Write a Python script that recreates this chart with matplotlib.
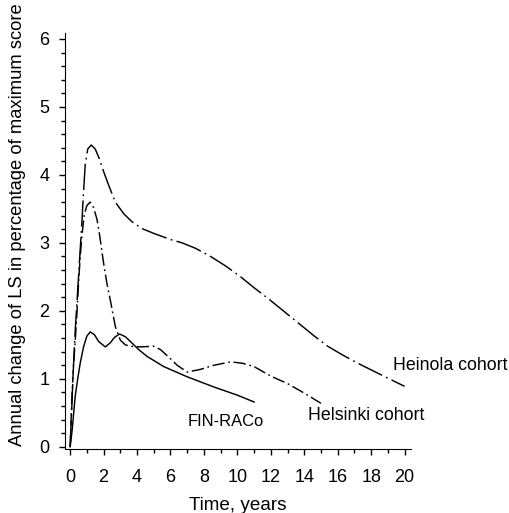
import matplotlib
matplotlib.use("Agg")
import matplotlib.pyplot as plt
from matplotlib.ticker import MultipleLocator

# valores
heinola_x = [0, 0.1, 0.2, 0.3, 0.4, 0.5, 0.6, 0.7, 0.8, 0.9, 1.05, 1.26, 1.5, 1.74,
             2.0, 2.3, 2.7, 3.2, 3.7, 4.3, 5.0, 6.0, 6.7, 7.5, 8.4, 9.3, 10.2, 11.0,
             11.8, 12.5, 13.8, 14.6, 15.4, 16.3, 17.2, 18.1, 19.0, 20.0]
heinola_y = [0, 0.6, 1.2, 1.7, 2.1, 2.5, 2.9, 3.3, 3.75, 4.15, 4.38, 4.44, 4.38,
             4.24, 4.05, 3.85, 3.6, 3.43, 3.31, 3.21, 3.14, 3.05, 3.0, 2.92, 2.8,
             2.66, 2.5, 2.34, 2.19, 2.05, 1.79, 1.63, 1.48, 1.35, 1.23, 1.12, 1.01,
             0.89]

helsinki_x = [0, 0.1, 0.2, 0.3, 0.4, 0.5, 0.6, 0.7, 0.84, 1.0, 1.2, 1.4, 1.6, 1.74,
              2.0, 2.2, 2.4, 2.7, 3.0, 3.3, 3.6, 4.2, 5.0, 5.4, 5.9, 6.4, 7.0, 7.8,
              8.6, 9.6, 10.3, 11.0, 12.0, 13.0, 14.0, 15.0]
helsinki_y = [0, 0.7, 1.2, 1.55, 1.95, 2.4, 2.8, 3.1, 3.41, 3.55, 3.6, 3.52, 3.35,
              3.15, 2.7, 2.4, 2.16, 1.77, 1.57, 1.5, 1.48, 1.47, 1.48, 1.43, 1.32,
              1.2, 1.1, 1.14, 1.2, 1.25, 1.23, 1.18, 1.04, 0.93, 0.79, 0.64]

finraco_x = [0, 0.12, 0.3, 0.45, 0.6, 0.8, 1.0, 1.2, 1.45, 1.7, 2.1, 2.4, 2.65,
             2.95, 3.3, 3.6, 4.1, 4.6, 5.6, 7.0, 8.6, 10.0, 11.0]
finraco_y = [0, 0.25, 0.74, 1.0, 1.23, 1.47, 1.63, 1.69, 1.65, 1.55, 1.47, 1.53,
             1.61, 1.66, 1.62, 1.55, 1.43, 1.33, 1.18, 1.03, 0.88, 0.76, 0.66]

plt.rcParams["font.family"] = ["Liberation Sans", "DejaVu Sans"]

fig = plt.figure(figsize=(5.09, 5.13), dpi=100)
ax = fig.add_axes([0.128, 0.125, 0.680, 0.811])

ax.plot(heinola_x, heinola_y, color="black", lw=1.05,
        linestyle=(0, (18, 3, 1.2, 3)))
ax.plot(helsinki_x, helsinki_y, color="black", lw=1.05,
        linestyle=(0, (8.5, 2.5, 1.2, 2.5)))
ax.plot(finraco_x, finraco_y, color="black", lw=1.05)

ax.text(19.3, 1.2, "Heinola cohort", fontsize=12.8, va="center")
ax.text(14.2, 0.46, "Helsinki cohort", fontsize=12.8, va="center")
ax.text(7.0, 0.37, "FIN-RACo", fontsize=11.9, va="center")

ax.set_xlim(-0.3, 20.4)
ax.set_ylim(-0.03, 6.09)
ax.xaxis.set_major_locator(MultipleLocator(2))
ax.xaxis.set_minor_locator(MultipleLocator(1))
ax.yaxis.set_major_locator(MultipleLocator(1))
ax.yaxis.set_minor_locator(MultipleLocator(0.2))
ax.spines["top"].set_visible(False)
ax.spines["right"].set_visible(False)
ax.tick_params(which="major", length=4.5, width=1, labelsize=13, pad=7)
ax.tick_params(axis="x", which="major", pad=10)
ax.tick_params(which="minor", length=3, width=1)

ax.set_xlabel("Time, years", fontsize=13.6, labelpad=8)
ax.set_ylabel("Annual change of LS in percentage of maximum score", fontsize=13.2)
ax.yaxis.set_label_coords(-0.113, 0.54)

fig.savefig("out.png", dpi=100)
